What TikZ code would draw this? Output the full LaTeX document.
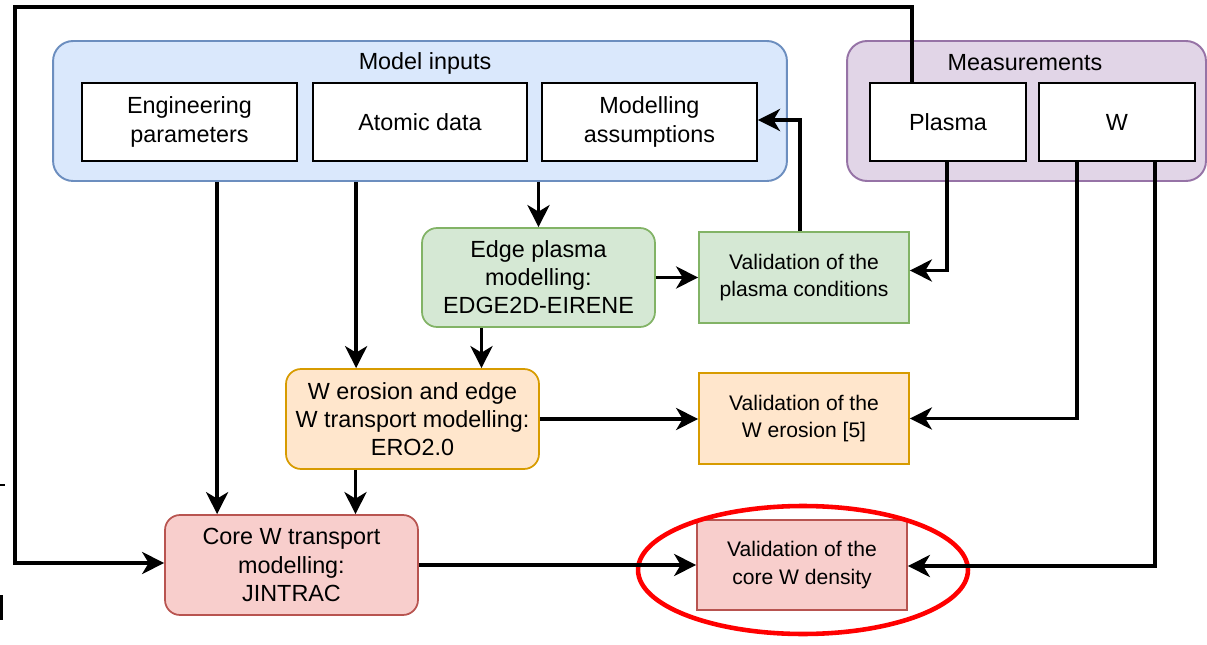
\documentclass[tikz,border=0pt]{standalone}
\usepackage{fontspec}
\setmainfont{Liberation Sans}
\usetikzlibrary{positioning, calc, arrows.meta}
\definecolor{InFill}    {HTML}{DAE8FC}
\definecolor{InDraw}    {HTML}{6C8EBF}
\definecolor{MeasFill}  {HTML}{E1D5E7}
\definecolor{MeasDraw}  {HTML}{9673A6}
\definecolor{EdgeFill}  {HTML}{D5E8D4}
\definecolor{EdgeDraw}  {HTML}{82B366}
\definecolor{EroFill}   {HTML}{FFE6CC}
\definecolor{EroDraw}   {HTML}{D79B00}
\definecolor{CoreFill}  {HTML}{F8CECC}
\definecolor{CoreDraw}  {HTML}{B85450}
\definecolor{Mark}      {HTML}{FF0000}
\tikzset{
  every node/.style={font=\fontsize{13.3}{16}\selectfont, align=center, inner sep=2pt},
  % grouping panels
  panel/.style={draw, line width=1.1pt, rounded corners=0.4cm},
  inpanel/.style  ={panel, fill=InFill,   draw=InDraw,
                    minimum width=14.68cm, minimum height=2.8cm},
  measpanel/.style={panel, fill=MeasFill, draw=MeasDraw,
                    minimum width=7.18cm, minimum height=2.8cm},
  % plain boxes inside the panels
  inbox/.style={draw, fill=white, line width=1.1pt, minimum height=1.56cm},
  % modelling steps and their validation
  model/.style={draw, line width=1pt, rounded corners=0.3cm,
                minimum width=5.06cm, minimum height=2cm},
  valid/.style={draw, line width=1pt, minimum width=4.2cm, minimum height=1.82cm,
                font=\fontsize{12}{15.5}\selectfont},
  green/.style ={fill=EdgeFill, draw=EdgeDraw},
  orange/.style={fill=EroFill,  draw=EroDraw},
  red/.style   ={fill=CoreFill, draw=CoreDraw},
  arr/.style={line width=2.1pt, -{Stealth[length=4.4mm, width=4.4mm, inset=1.3mm]}},
}

\begin{document}
\begin{tikzpicture}[x=0.02cm, y=-0.02cm]
\useasboundingbox (0,0) rectangle (1207,645);

% inputs and measurements
\node[inpanel]   (inputs) at (420,111) {};
\node            (intitle) at (425,63) {Model inputs};
\node[measpanel] (meas)   at (1026.5,111) {};
\node            (meastitle) at (1025,63) {Measurements};

\node[inbox, minimum width=4.3cm]  (engp)   at (189.5,122) {Engineering\\parameters};
\node[inbox, minimum width=4.28cm] (atomic) at (420,122)   {Atomic data};
\node[inbox, minimum width=4.3cm]  (assump) at (649.5,122) {Modelling\\assumptions};
\node[inbox, minimum width=3.12cm] (plasma) at (948,122)   {Plasma};
\node[inbox, minimum width=3.12cm] (wmeas)  at (1117,122)  {W};

% modelling chain
\node[model, green, minimum width=4.66cm, minimum height=1.98cm]
  (edge) at (538.5,277.5) {Edge plasma\\modelling:\\EDGE2D-EIRENE};
\node[model, orange] (werosion) at (412.5,419) {W erosion and edge\\W transport modelling:\\ERO2.0};
\node[model, red]    (core)     at (291.5,565) {Core W transport\\modelling:\\JINTRAC};

% validation boxes
\node[valid, green]  (valplasma)  at (804,277.5) {Validation of the\\plasma conditions};
\node[valid, orange] (valerosion) at (804,418.5) {Validation of the\\W erosion [5]};
\node[valid, red, minimum height=1.8cm] (valcore) at (802,565) {Validation of the\\core W density};

\draw[Mark, line width=2.6pt] (803,570) ellipse [x radius=3.3cm, y radius=1.28cm];

% arrows out of the inputs
\draw[arr] ($(inputs.south west)+(165,0)$) coordinate (a) -- (a |- core.north);
\draw[arr] ($(inputs.south west)+(304,0)$) coordinate (b) -- (b |- werosion.north);
\draw[arr] (inputs.south -| edge.north) -- (edge.north);

% down the chain
\draw[arr] ($(edge.south)+(-57,0)$) coordinate (e) -- (e |- werosion.north);
\draw[arr] ($(werosion.south)+(-57,0)$) coordinate (w) -- (w |- core.north);
\draw[arr] (edge.east) -- (edge.east -| valplasma.west);
\draw[arr] (werosion.east) -- (werosion.east -| valerosion.west);
\draw[arr] (core.east) -- (core.east -| valcore.west);

% feedback to the assumptions
\draw[arr] ($(valplasma.north)+(-4,0)$) |- ($(assump.east)+(0,-2)$);

% measurements to validation
\draw[arr] ($(plasma.south)+(-1,0)$) |- ($(valplasma.east)+(0,-7)$);
\draw[arr] ($(wmeas.south)+(-40,0)$) |- (valerosion.east);
\draw[arr] ($(wmeas.south)+(38,0)$) |- ($(valcore.east)+(0,1)$);

% plasma data fed to the core model
\coordinate (loop) at (15,7);
\draw[arr] ($(plasma.north)+(-36,0)$) |- (loop) |- ($(core.west)+(0,-2)$);

% edge marks
\draw[line width=1.2pt] (0,485) -- (5,485);
\draw[line width=1.8pt] (1.5,595) -- (1.5,620);

\end{tikzpicture}
\end{document}
